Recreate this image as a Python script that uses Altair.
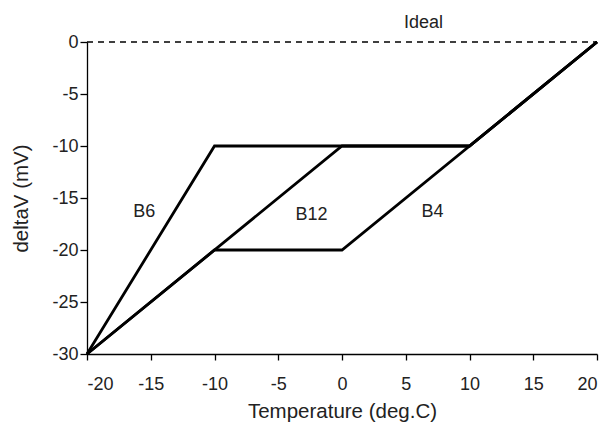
import altair as alt
import pandas as pd

series = ["B6", "B12", "B4"]
b6_x = [-20, -10, 10, 20]
b6_y = [-30, -10, -10, 0]
b12_x = [-20, 0, 10, 20]
b12_y = [-30, -10, -10, 0]
b4_x = [-20, -10, 0, 20]
b4_y = [-30, -20, -20, 0]
ideal_x = [-20, 20]
ideal_y = [0, 0]

label_text = ["Ideal", "B6", "B12", "B4"]
label_x = [6.4, -15.5, -2.4, 7.1]
label_y = [1.8, -16.3, -16.6, -16.3]

rows = []
for name, xs, ys in [("B6", b6_x, b6_y), ("B12", b12_x, b12_y), ("B4", b4_x, b4_y)]:
    for i, (x, y) in enumerate(zip(xs, ys)):
        rows.append({"series": name, "x": x, "y": y, "order": i})
lines_df = pd.DataFrame(rows)
ideal_df = pd.DataFrame({"x": ideal_x, "y": ideal_y})
labels_df = pd.DataFrame({"text": label_text, "x": label_x, "y": label_y})

FONT = "Liberation Sans"

xscale = alt.Scale(domain=[-20, 20], nice=False, zero=False)
yscale = alt.Scale(domain=[-30, 0], nice=False, zero=False)

xaxis = alt.Axis(values=list(range(-20, 21, 5)), title="Temperature (deg.C)",
                 labelExpr="toString(datum.value)",
                 grid=False, tickSize=6, labelPadding=15,
                 titleY=63, titleBaseline="alphabetic")
yaxis = alt.Axis(values=list(range(-30, 1, 5)), title="deltaV (mV)",
                 labelExpr="toString(datum.value)",
                 grid=False, tickSize=7, labelPadding=2,
                 titleX=-66, titleBaseline="middle")

ideal = alt.Chart(ideal_df).mark_line(color="black", strokeWidth=1.5, strokeDash=[6, 5]).encode(
    x=alt.X("x:Q", scale=xscale, axis=xaxis),
    y=alt.Y("y:Q", scale=yscale, axis=yaxis),
)

lines = alt.Chart(lines_df).mark_line(color="black", strokeWidth=2.8).encode(
    x=alt.X("x:Q", scale=xscale),
    y=alt.Y("y:Q", scale=yscale),
    detail="series:N",
    order="order:Q",
)

labels = alt.Chart(labels_df).mark_text(font=FONT, fontSize=18, color="#222", clip=False).encode(
    x=alt.X("x:Q", scale=xscale),
    y=alt.Y("y:Q", scale=yscale),
    text="text:N",
)

chart = alt.layer(ideal, lines, labels).properties(
    width=510, height=312,
    autosize=alt.AutoSizeParams(type="none"),
    padding={"left": 79, "top": 34, "right": 2, "bottom": 69},
).configure_view(stroke=None).configure_axis(
    domainColor="black", tickColor="black", domainWidth=1.3, tickWidth=1.3,
    labelFont=FONT, labelFontSize=18, labelColor="#222",
    titleFont=FONT, titleFontSize=20.5, titleFontWeight="normal", titleColor="#222",
)

chart.save("out.html", embed_options={"renderer": "svg", "actions": False})
